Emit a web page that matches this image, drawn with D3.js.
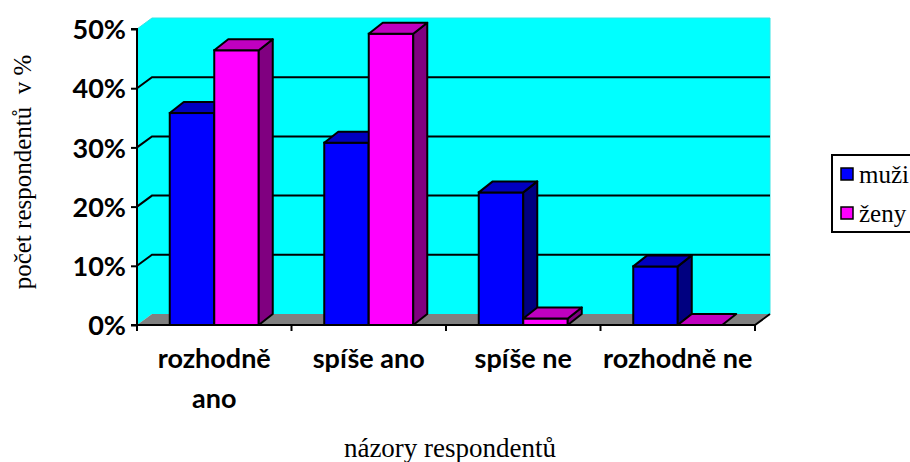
<!DOCTYPE html>
<html>
<head>
<meta charset="utf-8">
<script src="https://cdn.jsdelivr.net/npm/d3@7"></script>
<style>
body { margin: 0; background: #fff; }
</style>
</head>
<body>
<script>
// data
const categories = ["rozhodně ano", "spíše ano", "spíše ne", "rozhodně ne"];
const catLines = [["rozhodně", "ano"], ["spíše ano"], ["spíše ne"], ["rozhodně ne"]];
const seriesNames = ["muži", "ženy"];
const muzi = [35.8, 30.8, 22.4, 9.9];
const zeny = [46.4, 49.2, 1.1, 0];
const yTicks = [0, 10, 20, 30, 40, 50];

const svg = d3.select("body").append("svg")
	.attr("width", 910)
	.attr("height", 462);

const serif = "'Liberation Serif', 'Times New Roman', serif";
const boldSans = "Lato, 'Open Sans', sans-serif";

// plot box (front plane) and depth of the 3d effect
const pLeft = 137, pRight = 755, pBottom = 325, pTop = 29;
const dx = 15, dy = -11; //wall depth
const bdx = 14, bdy = -11; //bar depth

const y = d3.scaleLinear().domain([0, 50]).range([pBottom, pTop]);
const x = d3.scaleBand().domain(categories).range([pLeft, pRight]);
const xs = d3.scaleBand().domain(seriesNames).range([0, x.bandwidth()]).paddingOuter(0.736);

const poly = pts => pts.map(p => p.join(",")).join(" ");

/*
	WALLS AND FLOOR
*/
const g = svg.append("g");

//back wall
g.append("polygon")
	.attr("points", poly([[pLeft + dx, y(50) + dy], [pRight + dx, y(50) + dy], [pRight + dx, y(0) + dy], [pLeft + dx, y(0) + dy]]))
	.attr("fill", "#00FFFF");
//side wall
g.append("polygon")
	.attr("points", poly([[pLeft, y(50)], [pLeft + dx, y(50) + dy], [pLeft + dx, y(0) + dy], [pLeft, y(0)]]))
	.attr("fill", "#00FFFF");
//wall edges
g.append("polyline")
	.attr("points", poly([[pLeft, y(50)], [pLeft + dx, y(50) + dy], [pRight + dx, y(50) + dy], [pRight + dx, y(0) + dy]]))
	.attr("fill", "none")
	.attr("stroke", "#33E6E6")
	.attr("stroke-width", 1);

//floor
g.append("polygon")
	.attr("points", poly([[pLeft, y(0)], [pRight, y(0)], [pRight + dx, y(0) + dy], [pLeft + dx, y(0) + dy]]))
	.attr("fill", "#808080");

//gridlines on the walls
yTicks.filter(t => t > 0 && t < 50).forEach(t => {
	g.append("polyline")
		.attr("points", poly([[pLeft, y(t)], [pLeft + dx, y(t) + dy], [pRight + dx, y(t) + dy]]))
		.attr("fill", "none")
		.attr("stroke", "#000")
		.attr("stroke-width", 2);
});

/*
	AXES
*/
const yAxis = d3.axisLeft(y)
	.tickValues(yTicks)
	.tickSize(6)
	.tickPadding(5)
	.tickFormat(d => d + "%");

const yG = svg.append("g")
	.attr("transform", `translate(${pLeft},0)`)
	.call(yAxis);
yG.select(".domain").attr("stroke-width", 2).attr("d", `M-6,${pTop}H0V${pBottom}H-6`);
yG.selectAll(".tick line").attr("stroke-width", 2);
yG.selectAll(".tick text")
	.attr("font-family", boldSans)
	.attr("font-weight", "bold")
	.attr("font-size", 27)
	.attr("fill", "#000")
	.attr("dy", "0.36em");

//x axis line and the floor edge
svg.append("polyline")
	.attr("points", poly([[pLeft, y(0)], [pRight, y(0)], [pRight + dx, y(0) + dy]]))
	.attr("fill", "none")
	.attr("stroke", "#000")
	.attr("stroke-width", 2);

//ticks between categories
const xTickPos = categories.map(c => x(c)).concat([pRight]);
svg.selectAll(".xtick")
	.data(xTickPos)
	.join("line")
	.attr("x1", d => d).attr("x2", d => d)
	.attr("y1", y(0)).attr("y2", y(0) + 6)
	.attr("stroke", "#000")
	.attr("stroke-width", 2);

//category labels
const catG = svg.append("g");
categories.forEach((c, i) => {
	const t = catG.append("text")
		.attr("x", x(c) + x.bandwidth() / 2)
		.attr("y", 368)
		.attr("text-anchor", "middle")
		.attr("font-family", boldSans)
		.attr("font-weight", "bold")
		.attr("font-size", 27)
		.attr("fill", "#000");
	catLines[i].forEach((line, j) => {
		t.append("tspan")
			.attr("x", x(c) + x.bandwidth() / 2)
			.attr("dy", j === 0 ? 0 : 40)
			.text(line);
	});
});

/*
	BARS
*/
const colors = {
	"muži": { front: "#0000FF", top: "#0000C0", side: "#000080" },
	"ženy": { front: "#FF00FF", top: "#C000C0", side: "#800080" }
};

const barData = [];
categories.forEach((c, i) => {
	barData.push({ cat: c, s: "muži", v: muzi[i] });
	barData.push({ cat: c, s: "ženy", v: zeny[i] });
});

const bars = svg.append("g")
	.selectAll("g")
	.data(barData)
	.join("g");

bars.each(function(d) {
	const b = d3.select(this);
	const x0 = x(d.cat) + xs(d.s), x1 = x0 + xs.bandwidth();
	const y0 = y(0), y1 = y(d.v);
	const c = colors[d.s];
	if (d.v > 0) {
		b.append("rect") //front face
			.attr("x", x0).attr("y", y1)
			.attr("width", x1 - x0).attr("height", y0 - y1)
			.attr("fill", c.front)
			.attr("stroke", "#000").attr("stroke-width", 2);
		b.append("polygon") //side face
			.attr("points", poly([[x1, y1], [x1 + bdx, y1 + bdy], [x1 + bdx, y0 + bdy], [x1, y0]]))
			.attr("fill", c.side)
			.attr("stroke", "#000").attr("stroke-width", 2).attr("stroke-linejoin", "round");
	}
	b.append("polygon") //top face
		.attr("points", poly([[x0, y1], [x0 + bdx, y1 + bdy], [x1 + bdx, y1 + bdy], [x1, y1]]))
		.attr("fill", c.top)
		.attr("stroke", "#000").attr("stroke-width", 2).attr("stroke-linejoin", "round");
});

/*
	TITLES
*/
svg.append("text")
	.attr("transform", "translate(31,172) rotate(-90)")
	.attr("text-anchor", "middle")
	.attr("font-family", serif)
	.attr("font-size", 25)
	.attr("fill", "#000")
	.attr("xml:space", "preserve")
	.text("počet respondentů  v %");

svg.append("text")
	.attr("x", 450)
	.attr("y", 457)
	.attr("text-anchor", "middle")
	.attr("font-family", serif)
	.attr("font-size", 27)
	.attr("fill", "#000")
	.text("názory respondentů");

/*
	LEGEND
*/
const legend = svg.append("g");
legend.append("rect")
	.attr("x", 832).attr("y", 155)
	.attr("width", 90).attr("height", 77)
	.attr("fill", "#fff")
	.attr("stroke", "#000").attr("stroke-width", 2);

seriesNames.forEach((s, i) => {
	legend.append("rect")
		.attr("x", 841).attr("y", 168 + i * 39)
		.attr("width", 12).attr("height", 12)
		.attr("fill", colors[s].front)
		.attr("stroke", "#000").attr("stroke-width", 1.5);
	legend.append("text")
		.attr("x", 859).attr("y", 183 + i * 39)
		.attr("font-family", serif)
		.attr("font-size", 25)
		.attr("fill", "#000")
		.text(s);
});
</script>
</body>
</html>
